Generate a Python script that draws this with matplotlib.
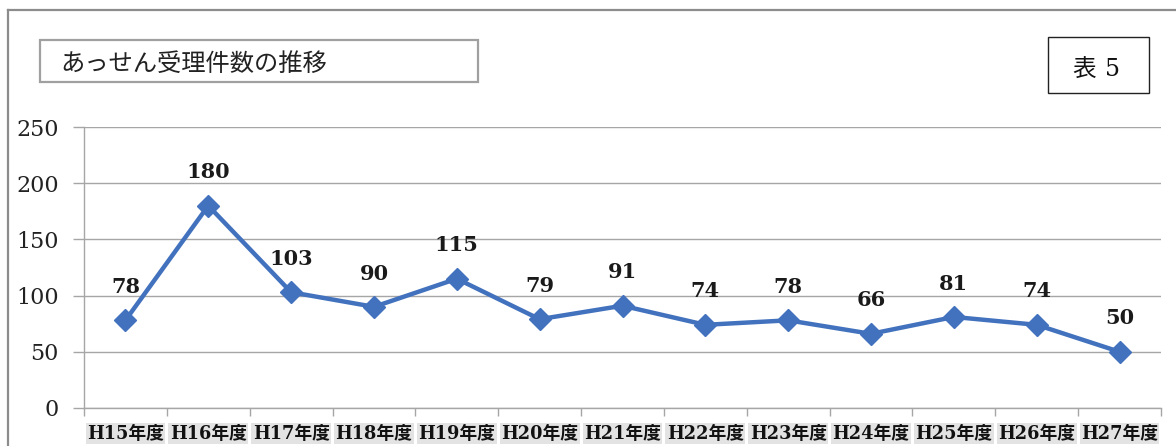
import matplotlib
matplotlib.use("Agg")
import matplotlib.pyplot as plt
from matplotlib.patches import Rectangle
from matplotlib.lines import Line2D

categories = ["H15年度", "H16年度", "H17年度", "H18年度", "H19年度", "H20年度", "H21年度",
              "H22年度", "H23年度", "H24年度", "H25年度", "H26年度", "H27年度"]
values = [78, 180, 103, 90, 115, 79, 91, 74, 78, 66, 81, 74, 50]
yticks = [0, 50, 100, 150, 200, 250]
title = "あっせん受理件数の推移"
badge = "表 5"

W, H = 1176, 446
fig = plt.figure(figsize=(W / 100, H / 100), dpi=100)
fig.patch.set_facecolor("white")

def fx(px):
    return px / W

def fy(py):
    return 1 - py / H

ax = fig.add_axes([fx(84), fy(408), fx(1161) - fx(84), fy(127) - fy(408)])
x = list(range(len(categories)))
ax.plot(x, values, color="#4272BE", lw=3.2, marker="D", markersize=11,
        markerfacecolor="#4272BE", markeredgecolor="#4272BE", zorder=3, clip_on=False)
for xi, v in zip(x, values):
    ax.annotate(str(v), (xi, v), xytext=(0, 24), textcoords="offset points",
                ha="center", va="center", fontsize=15, fontweight="bold",
                family=["DejaVu Serif"], color="#1a1a1a")

ax.set_xlim(-0.5, len(categories) - 0.5)
ax.set_ylim(0, 250)
ax.set_yticks(yticks)
ax.set_yticklabels([str(t) for t in yticks], family=["DejaVu Serif"], fontsize=16, color="#222222")
ax.yaxis.grid(True, color="#a6a6a6", lw=1.0)
ax.set_axisbelow(True)
ax.tick_params(axis="y", length=8, color="#a6a6a6", width=1.0, pad=10)

ax.set_xticks([i - 0.5 for i in range(len(categories) + 1)], minor=False)
ax.set_xticklabels([])
ax.set_xticks(x, minor=True)
ax.set_xticklabels(categories, minor=True, family=["DejaVu Serif", "Noto Sans CJK JP"],
                   fontsize=12.8, fontweight="bold", color="#111111")
for lab in ax.get_xticklabels(minor=True):
    lab.set_bbox(dict(facecolor="#e3e3e3", edgecolor="none", pad=1.0))
ax.tick_params(axis="x", which="major", length=6, color="#a6a6a6", width=1.0)
ax.tick_params(axis="x", which="minor", length=0, pad=12)

for s in ["top", "right"]:
    ax.spines[s].set_visible(False)
for s in ["left", "bottom"]:
    ax.spines[s].set_color("#a6a6a6")
    ax.spines[s].set_linewidth(1.0)

# outer frame
fig.add_artist(Line2D([fx(8), fx(8)], [fy(10), fy(446)], color="#8c8c8c", lw=1.6))
fig.add_artist(Line2D([fx(8), fx(1176)], [fy(10), fy(10)], color="#8c8c8c", lw=1.6))

# title box
fig.add_artist(Rectangle((fx(40), fy(82)), fx(478) - fx(40), fy(40) - fy(82),
                         facecolor="white", edgecolor="#a0a0a0", lw=1.6))
fig.text(fx(60), fy(64), title, family=["Noto Sans CJK JP"], fontsize=17.5,
         ha="left", va="center", color="#222222")

# badge box
fig.add_artist(Rectangle((fx(1048), fy(93)), fx(1149) - fx(1048), fy(37) - fy(93),
                         facecolor="white", edgecolor="#222222", lw=1.0))
fig.text(fx(1072), fy(70), "表", family=["Noto Sans CJK JP"], fontsize=17,
         ha="left", va="center", color="#111111")
fig.text(fx(1105), fy(70), "5", family=["DejaVu Serif"], fontsize=17,
         ha="left", va="center", color="#111111")

fig.savefig("out.png", dpi=100)
